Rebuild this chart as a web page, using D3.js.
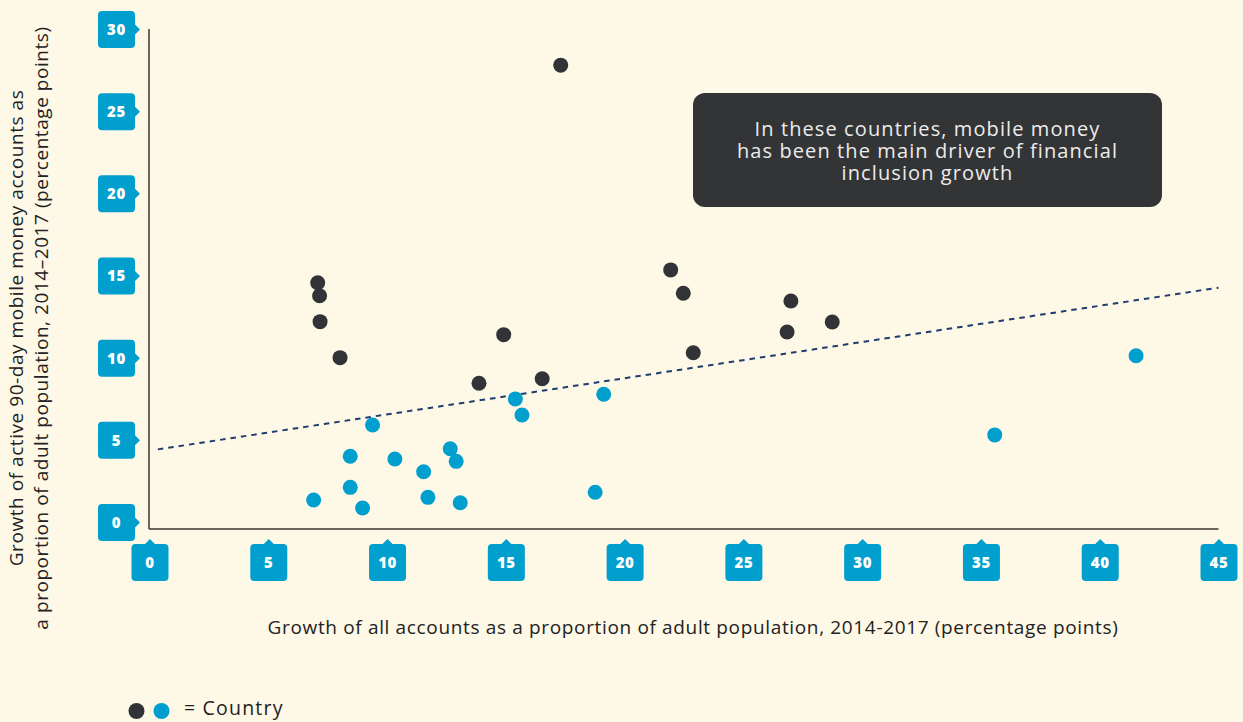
<!DOCTYPE html>
<html>
<head>
<meta charset="utf-8">
<script src="https://cdn.jsdelivr.net/npm/d3@7"></script>
<style>
  html, body { margin: 0; padding: 0; background: #fef8e6; }
  svg { display: block; }
</style>
</head>
<body>
<div id="chart"></div>
<script>
// Countries where mobile money drove growth (dark) and the rest (blue)
var darkX = [17.31, 7.08, 7.16, 7.18, 8.02, 14.91, 13.87, 16.53, 21.94, 22.47, 22.89, 27.00, 26.84, 28.74];
var darkY = [27.80, 14.56, 13.77, 12.19, 10.00, 11.40, 8.44, 8.72, 15.34, 13.92, 10.30, 13.45, 11.56, 12.17];

var blueX = [6.91, 8.45, 8.45, 8.97, 9.39, 10.33, 11.54, 11.72, 12.66, 12.91, 13.08, 15.40, 15.68, 18.76, 19.12, 35.58, 41.53];
var blueY = [1.34, 4.00, 2.11, 0.85, 5.90, 3.83, 3.06, 1.50, 4.46, 3.69, 1.17, 7.49, 6.51, 1.81, 7.77, 5.30, 10.12];

// Trend line end points
var trendX = [0.35, 45];
var trendY = [4.42, 14.26];

var xTicks = [0, 5, 10, 15, 20, 25, 30, 35, 40, 45];
var yTicks = [0, 5, 10, 15, 20, 25, 30];

var annotationLines = [
    "In these countries, mobile money",
    "has been the main driver of financial",
    "inclusion growth"
];
var xTitle = "Growth of all accounts as a proportion of adult population, 2014-2017 (percentage points)";
var yTitleLines = [
    "Growth of active 90-day mobile money accounts as",
    "a proportion of adult population, 2014\u20132017 (percentage points)"
];

var W = 1243, H = 722;
var blue = "#009fce", dark = "#323336", bg = "#fef8e6";
var font = "'Open Sans', sans-serif";

var svg = d3.select("#chart").append("svg")
    .attr("width", W)
    .attr("height", H);

svg.append("rect").attr("width", W).attr("height", H).attr("fill", bg);

var x = d3.scaleLinear().domain([0, 45]).range([149.5, 1218.5]);
var y = d3.scaleLinear().domain([0, 30]).range([522, 29]);

// Box with a small pointer, drawn around (0,0) as the pointer tip
function boxPath(dir) {
    var w = 37, h = 37, r = 4, a = 5, b = 5;
    var p = d3.path();
    if (dir === "left") {
        // box to the left of the tip, pointer facing right
        var x1 = -a - w, x2 = -a, y1 = -h / 2, y2 = h / 2;
        p.moveTo(x1 + r, y1);
        p.lineTo(x2 - r, y1);
        p.quadraticCurveTo(x2, y1, x2, y1 + r);
        p.lineTo(x2, -b);
        p.lineTo(0, 0);
        p.lineTo(x2, b);
        p.lineTo(x2, y2 - r);
        p.quadraticCurveTo(x2, y2, x2 - r, y2);
        p.lineTo(x1 + r, y2);
        p.quadraticCurveTo(x1, y2, x1, y2 - r);
        p.lineTo(x1, y1 + r);
        p.quadraticCurveTo(x1, y1, x1 + r, y1);
    } else {
        // box below the tip, pointer facing up
        var x1 = -w / 2, x2 = w / 2, y1 = a, y2 = a + h;
        p.moveTo(x1 + r, y1);
        p.lineTo(-b, y1);
        p.lineTo(0, 0);
        p.lineTo(b, y1);
        p.lineTo(x2 - r, y1);
        p.quadraticCurveTo(x2, y1, x2, y1 + r);
        p.lineTo(x2, y2 - r);
        p.quadraticCurveTo(x2, y2, x2 - r, y2);
        p.lineTo(x1 + r, y2);
        p.quadraticCurveTo(x1, y2, x1, y2 - r);
        p.lineTo(x1, y1 + r);
        p.quadraticCurveTo(x1, y1, x1 + r, y1);
    }
    p.closePath();
    return p.toString();
}

function styleTickText(sel) {
    sel.attr("text-anchor", "middle")
        .attr("dy", "0.36em")
        .attr("fill", "#ffffff")
        .style("font-family", font)
        .style("font-weight", 800)
        .style("font-size", "15px")
        .style("letter-spacing", "0.6px");
}

// Y axis ticks
var yAxis = svg.append("g")
    .attr("transform", "translate(140,0)")
    .call(d3.axisLeft(y).tickValues(yTicks).tickSize(0).tickPadding(0));
yAxis.select(".domain").remove();
yAxis.selectAll(".tick").insert("path", "text")
    .attr("d", boxPath("left"))
    .attr("fill", blue);
yAxis.selectAll(".tick text")
    .attr("x", -23.5)
    .call(styleTickText);

// X axis ticks
var xAxis = svg.append("g")
    .attr("transform", "translate(0,539)")
    .call(d3.axisBottom(x).tickValues(xTicks).tickSize(0).tickPadding(0));
xAxis.select(".domain").remove();
xAxis.selectAll(".tick").insert("path", "text")
    .attr("d", boxPath("down"))
    .attr("fill", blue);
xAxis.selectAll(".tick text")
    .attr("y", 23.5)
    .call(styleTickText);

// Axis lines
svg.append("line")
    .attr("x1", x(0) - 0.5).attr("x2", x(0) - 0.5)
    .attr("y1", y(30)).attr("y2", y(0) + 7)
    .attr("stroke", "#3a3530").attr("stroke-width", 1.5);
svg.append("line")
    .attr("x1", x(0) - 0.5).attr("x2", x(45))
    .attr("y1", y(0) + 7).attr("y2", y(0) + 7)
    .attr("stroke", "#3a3530").attr("stroke-width", 1.5);

// Trend line
var trendData = trendX.map(function (d, i) { return [d, trendY[i]]; });
svg.append("path")
    .datum(trendData)
    .attr("d", d3.line().x(function (d) { return x(d[0]); }).y(function (d) { return y(d[1]); }))
    .attr("fill", "none")
    .attr("stroke", "#1f3d6e")
    .attr("stroke-width", 2)
    .attr("stroke-dasharray", "5.5,5");

// Points
var darkData = darkX.map(function (d, i) { return { x: d, y: darkY[i] }; });
var blueData = blueX.map(function (d, i) { return { x: d, y: blueY[i] }; });

svg.append("g").selectAll("circle")
    .data(darkData)
    .enter().append("circle")
    .attr("cx", function (d) { return x(d.x); })
    .attr("cy", function (d) { return y(d.y); })
    .attr("r", 7.5)
    .attr("fill", dark);

svg.append("g").selectAll("circle")
    .data(blueData)
    .enter().append("circle")
    .attr("cx", function (d) { return x(d.x); })
    .attr("cy", function (d) { return y(d.y); })
    .attr("r", 7.5)
    .attr("fill", blue);

// Annotation box
svg.append("rect")
    .attr("x", 693).attr("y", 93)
    .attr("width", 469).attr("height", 114)
    .attr("rx", 12).attr("ry", 12)
    .attr("fill", "#333436");

svg.append("text")
    .attr("text-anchor", "middle")
    .attr("fill", "#ececec")
    .style("font-family", font)
    .style("font-size", "20px")
    .style("letter-spacing", "1.1px")
    .selectAll("tspan")
    .data(annotationLines)
    .enter().append("tspan")
    .attr("x", 927.5)
    .attr("y", function (d, i) { return 136 + i * 22; })
    .text(function (d) { return d; });

// Axis titles
svg.append("text")
    .attr("x", 693)
    .attr("y", 634)
    .attr("text-anchor", "middle")
    .attr("fill", "#222222")
    .style("font-family", font)
    .style("font-size", "19px")
    .style("letter-spacing", "0.65px")
    .text(xTitle);

svg.append("text")
    .attr("transform", "translate(0,328) rotate(-90)")
    .attr("text-anchor", "middle")
    .attr("fill", "#222222")
    .style("font-family", font)
    .style("font-size", "19px")
    .style("letter-spacing", "0.55px")
    .selectAll("tspan")
    .data(yTitleLines)
    .enter().append("tspan")
    .attr("x", 0)
    .attr("y", function (d, i) { return 23 + i * 25; })
    .text(function (d) { return d; });

// Legend
svg.append("circle").attr("cx", 136.5).attr("cy", 711).attr("r", 8).attr("fill", dark);
svg.append("circle").attr("cx", 161.5).attr("cy", 711).attr("r", 8).attr("fill", blue);
svg.append("text")
    .attr("x", 184)
    .attr("y", 715)
    .attr("fill", "#222222")
    .style("font-family", font)
    .style("font-size", "19.5px")
    .style("letter-spacing", "1.2px")
    .text("= Country");
</script>
</body>
</html>
